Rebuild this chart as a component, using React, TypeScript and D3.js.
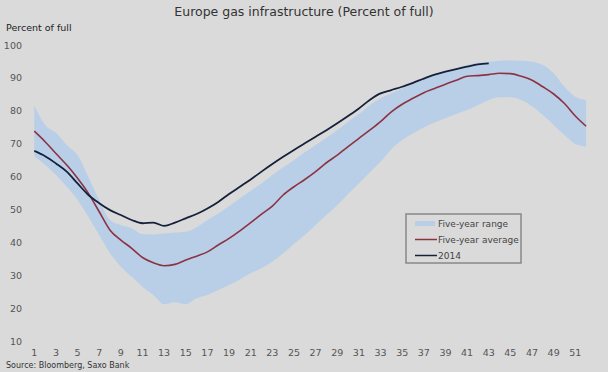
import React from 'react';
import * as d3 from 'd3';

// weeks 1..52
const weeks = d3.range(1, 53);

const rangeHigh = [
  81.5, 75.7, 73.3, 69.6, 66.5, 59.9, 52.9, 46.8, 45.3, 44.3,
  42.5, 42.4, 42.7, 43.0, 43.2, 44.6, 46.8, 48.8, 51.0, 53.4,
  55.7, 57.9, 60.5, 62.8, 65.0, 67.4, 69.6, 71.8, 74.1, 76.7,
  79.0, 81.7, 83.8, 85.3, 86.8, 88.3, 89.6, 90.9, 91.9, 92.9,
  93.9, 94.6, 94.9, 95.2, 95.4, 95.2, 94.9, 93.9, 91.4, 87.3,
  84.3, 83.3,
];

const rangeLow = [
  66.2, 63.5, 60.5, 56.9, 52.9, 47.8, 42.2, 36.7, 32.6, 29.5,
  26.5, 24.0, 21.2, 21.8, 21.2, 23.0, 24.0, 25.5, 27.0, 28.7,
  30.6, 32.1, 34.1, 36.7, 39.5, 42.2, 45.3, 48.3, 51.3, 54.7,
  57.9, 61.2, 64.5, 68.3, 71.1, 73.1, 74.9, 76.4, 77.7, 79.0,
  80.2, 81.7, 83.3, 84.1, 84.1, 83.3, 81.4, 78.7, 75.7, 72.6,
  69.9, 69.1,
];

const fiveYearAvg = [
  73.8, 70.6, 67.0, 63.5, 59.5, 54.9, 49.3, 43.7, 40.7, 38.2,
  35.4, 33.8, 32.9, 33.3, 34.6, 35.8, 37.1, 39.2, 41.2, 43.5,
  46.0, 48.6, 51.0, 54.4, 56.9, 59.1, 61.5, 64.2, 66.5, 69.1,
  71.6, 74.1, 76.7, 79.7, 82.0, 83.8, 85.5, 86.8, 88.1, 89.3,
  90.5, 90.7, 91.0, 91.4, 91.3, 90.5, 89.3, 87.3, 85.1, 82.2,
  78.4, 75.3,
];

const y2014 = [
  67.8, 66.2, 64.0, 61.5, 57.9, 54.4, 51.9, 49.8, 48.3, 46.8,
  45.8, 46.0, 45.0, 46.0, 47.3, 48.6, 50.3, 52.3, 54.7, 56.9,
  59.1, 61.5, 63.8, 66.0, 68.1, 70.1, 72.1, 74.1, 76.2, 78.4,
  80.7, 83.3, 85.3, 86.3, 87.3, 88.5, 89.8, 91.0, 91.9, 92.7,
  93.4, 94.1, 94.4,
];

const yTicks = [10, 20, 30, 40, 50, 60, 70, 80, 90, 100];
const xTicks = weeks.filter((w) => w % 2 === 1);

const W = 608;
const H = 372;
const FONT = 'DejaVu Sans, Verdana, sans-serif';
const BG = '#dadada';
const BAND = '#b9cfe8';
const RED = '#8c3343';
const NAVY = '#15203a';

export default function App() {
  const x = d3.scaleLinear().domain([1, 51]).range([34.3, 575.3]);
  const y = d3.scaleLinear().domain([10, 100]).range([341, 45]);

  const band = d3.area<number>()
    .x((w) => x(w))
    .y0((w) => y(rangeLow[w - 1]))
    .y1((w) => y(rangeHigh[w - 1]))
    .curve(d3.curveMonotoneX);

  const line = d3.line<number>()
    .x((_, i) => x(i + 1))
    .y((v) => y(v))
    .curve(d3.curveMonotoneX);

  const legendX = 406;
  const legendY = 214;

  return (
    <svg width={W} height={H} style={{ position: 'absolute', left: 0, top: 0 }} fontFamily={FONT}>
      <rect width={W} height={H} fill={BG} />

      <text x={W / 2} y={16} textAnchor="middle" fontSize={12.5} fill="#333">
        Europe gas infrastructure  (Percent of full)
      </text>
      <text x={6} y={31} fontSize={9.5} fill="#222">Percent of full</text>

      {yTicks.map((t) => (
        <text key={t} x={22} y={y(t) + 3.5} textAnchor="end" fontSize={9.5} fill="#555">{t}</text>
      ))}
      {xTicks.map((t) => (
        <text key={t} x={x(t)} y={356} textAnchor="middle" fontSize={9.5} fill="#555">{t}</text>
      ))}

      <path d={band(weeks) ?? ''} fill={BAND} />
      <path d={line(fiveYearAvg) ?? ''} fill="none" stroke={RED} strokeWidth={1.6} />
      <path d={line(y2014) ?? ''} fill="none" stroke={NAVY} strokeWidth={1.8} />

      <g transform={`translate(${legendX},${legendY})`}>
        <rect x={0} y={0} width={115} height={49} fill={BG} stroke="#888" strokeWidth={1.5} />
        <rect x={9} y={7} width={20} height={5} fill={BAND} />
        <text x={32} y={13} fontSize={9} fill="#444">Five-year range</text>
        <line x1={9} x2={31} y1={25.5} y2={25.5} stroke={RED} strokeWidth={1.5} />
        <text x={32} y={29} fontSize={9} fill="#444">Five-year average</text>
        <line x1={9} x2={31} y1={41.5} y2={41.5} stroke={NAVY} strokeWidth={1.5} />
        <text x={32} y={45} fontSize={9} fill="#444">2014</text>
      </g>

      <text x={6} y={368} fontSize={8} fill="#333">Source: Bloomberg, Saxo Bank</text>
    </svg>
  );
}
